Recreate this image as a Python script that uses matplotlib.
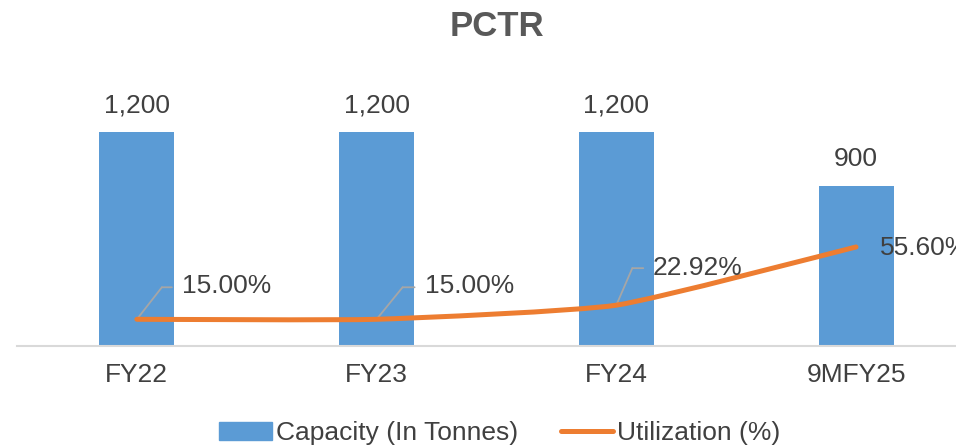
import matplotlib
matplotlib.use("Agg")
import matplotlib.pyplot as plt
from matplotlib.path import Path
from matplotlib.patches import PathPatch
from matplotlib.transforms import offset_copy
from matplotlib.lines import Line2D
from matplotlib.patches import Patch

plt.rcParams['font.family'] = ['Liberation Sans', 'DejaVu Sans']

categories = ["FY22", "FY23", "FY24", "9MFY25"]
capacity = [1200, 1200, 1200, 900]
utilization = [15.00, 15.00, 22.92, 55.60]
util_labels = ["15.00%", "15.00%", "22.92%", "55.60%"]
title = "PCTR"
legend_labels = ["Capacity (In Tonnes)", "Utilization (%)"]

BAR = "#5B9BD5"
LINE = "#ED7D31"
TXT = "#404040"
GRAY = "#A6A6A6"

fig = plt.figure(figsize=(9.56, 4.46), dpi=100)
ax = fig.add_axes([17/956, 100/446, 939/956, 285/446])
x = list(range(len(categories)))
ax.bar(x, capacity, width=0.313, color=BAR, zorder=2)
ax.set_xlim(-0.5, 3.417)
ax.set_ylim(0, 1600)
ax.set_xticks(x)
ax.set_xticklabels(categories, fontsize=19, color=TXT)
ax.tick_params(axis='x', length=0, pad=12)
ax.set_yticks([])
for s in ["top", "left", "right"]:
    ax.spines[s].set_visible(False)
ax.spines["bottom"].set_color("#D9D9D9")
ax.spines["bottom"].set_linewidth(1.5)

for xi, v in zip(x, capacity):
    ax.annotate(f"{v:,}", xy=(xi, v), xytext=(0, 27), textcoords="offset pixels",
                ha="center", va="center", fontsize=19, color=TXT)

ax2 = ax.twinx()
ax2.set_ylim(0, 160)
ax2.set_yticks([])
for s in ["top", "left", "right", "bottom"]:
    ax2.spines[s].set_visible(False)

# Smoothed line (mild Bezier smoothing)
k = 1 / 12
pts = list(zip(x, utilization))
verts = [pts[0]]
codes = [Path.MOVETO]
n = len(pts)
for i in range(n - 1):
    p0 = pts[i - 1] if i > 0 else pts[i]
    p1 = pts[i]
    p2 = pts[i + 1]
    p3 = pts[i + 2] if i + 2 < n else pts[i + 1]
    c1 = (p1[0] + (p2[0] - p0[0]) * k, p1[1] + (p2[1] - p0[1]) * k)
    c2 = (p2[0] - (p3[0] - p1[0]) * k, p2[1] - (p3[1] - p1[1]) * k)
    verts += [c1, c2, p2]
    codes += [Path.CURVE4] * 3
patch = PathPatch(Path(verts, codes), fill=False, edgecolor=LINE, lw=3.6,
                  capstyle="round", joinstyle="round", zorder=3)
ax2.add_patch(patch)

# Leader lines and labels (pixel offsets)
leaders = [((25, 32), (35, 32), (45, 33)),
           ((26, 32), (38, 32), (48, 33)),
           ((16, 37), (27, 37), (36, 37)),
           (None, None, (24, -1))]
for xi, v, lab, (a, b, t) in zip(x, utilization, util_labels, leaders):
    if a is not None:
        ax2.annotate("", xy=(xi, v), xytext=a, textcoords="offset pixels",
                     arrowprops=dict(arrowstyle="-", color=GRAY, lw=1.3,
                                     shrinkA=0, shrinkB=0), zorder=2.5)
        tr = offset_copy(ax2.transData, fig=fig, x=a[0], y=a[1], units="dots")
        ax2.annotate("", xy=(xi, v), xycoords=tr, xytext=(b[0] - a[0], 0),
                     textcoords="offset pixels",
                     arrowprops=dict(arrowstyle="-", color=GRAY, lw=1.3,
                                     shrinkA=0, shrinkB=0), zorder=2.5)
    ax2.annotate(lab, xy=(xi, v), xytext=t, textcoords="offset pixels",
                 ha="left", va="center", fontsize=19, color=TXT,
                 annotation_clip=False)

fig.text(497/956, 1 - 26/446, title, ha="center", va="center",
         fontsize=25, fontweight="bold", color="#595959")

handles = [Patch(facecolor=BAR, edgecolor=BAR),
           Line2D([0], [0], color=LINE, lw=3.6, solid_capstyle="round")]
fig.legend(handles, legend_labels, loc="center", bbox_to_anchor=(500/956, 13/446),
           ncol=2, frameon=False, fontsize=19, handlelength=2.0,
           handletextpad=0.15, columnspacing=1.6, labelcolor=TXT)

fig.savefig("out.png", dpi=100)
